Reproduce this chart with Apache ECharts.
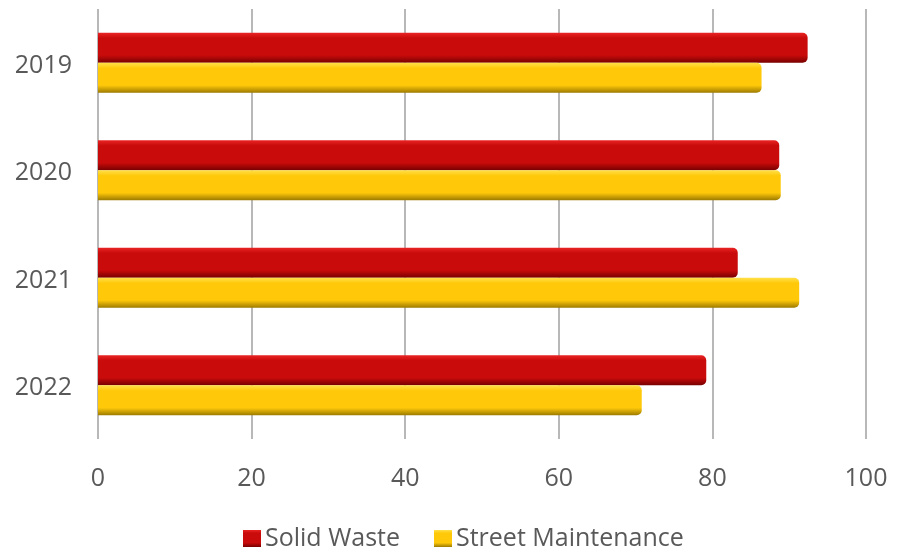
<!DOCTYPE html>
<html>
<head>
<meta charset="utf-8">
<script src="https://cdn.jsdelivr.net/npm/echarts@6/dist/echarts.min.js"></script>
<style>
  html, body { margin: 0; padding: 0; background: #ffffff; }
  #chart { width: 908px; height: 553px; }
</style>
</head>
<body>
<div id="chart"></div>
<script>
// Survey years and ratings per service
const years = ['2019', '2020', '2021', '2022'];
const solidWaste = [92.4, 88.7, 83.3, 79.2];
const streetMaintenance = [86.4, 88.9, 91.3, 70.8];
const seriesNames = ['Solid Waste', 'Street Maintenance'];

// Vertical gradient giving the bars a rounded, tubular look
function tube(top, mid, bottom) {
  return new echarts.graphic.LinearGradient(0, 0, 0, 1, [
    { offset: 0, color: top },
    { offset: 0.18, color: mid },
    { offset: 0.75, color: mid },
    { offset: 1, color: bottom }
  ]);
}

const redFill = tube('#ea2424', '#c90b0b', '#780000');
const yellowFill = tube('#ffe04a', '#ffc90a', '#9c7a00');

const chart = echarts.init(document.getElementById('chart'));
chart.setOption({
  animation: false,
  textStyle: { fontFamily: 'Open Sans' },
  grid: { left: 98, right: 42, top: 9, bottom: 114, containLabel: false },
  legend: {
    top: 521,
    left: 238,
    itemWidth: 18,
    itemHeight: 17,
    itemGap: 34,
    icon: 'rect',
    textStyle: { fontSize: 25, color: '#595959', fontFamily: 'Open Sans', padding: [0, 0, 0, -1] },
    data: seriesNames
  },
  xAxis: {
    type: 'value',
    min: 0,
    max: 100,
    interval: 20,
    axisLine: { show: false },
    axisTick: { show: false },
    splitLine: { lineStyle: { color: '#b8b8b8', width: 2 } },
    axisLabel: { fontSize: 25, color: '#595959', margin: 27 }
  },
  yAxis: {
    type: 'category',
    data: years,
    inverse: true,
    axisLine: { show: false },
    axisTick: { show: false },
    axisLabel: { fontSize: 25, color: '#595959', margin: 26, verticalAlign: 'top', lineHeight: 6 }
  },
  series: [
    {
      name: seriesNames[0],
      type: 'bar',
      data: solidWaste,
      barWidth: 30,
      barGap: '0%',
      itemStyle: { color: redFill, borderRadius: [0, 5, 5, 0] }
    },
    {
      name: seriesNames[1],
      type: 'bar',
      data: streetMaintenance,
      barWidth: 30,
      barGap: '0%',
      itemStyle: { color: yellowFill, borderRadius: [0, 5, 5, 0] }
    }
  ]
});
</script>
</body>
</html>
